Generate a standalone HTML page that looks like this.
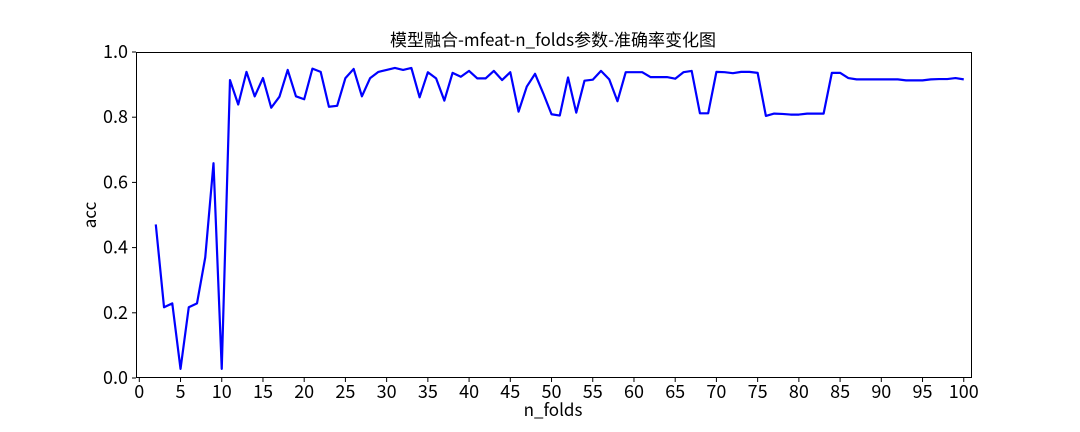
<!DOCTYPE html>
<html><head><meta charset="utf-8"><style>
html,body{margin:0;padding:0;background:#fff;}
svg{display:block;}
text{font-family:"WenQuanYi Zen Hei","Noto Sans CJK SC",sans-serif;fill:#000;}
</style></head><body>
<svg id="chart" width="1080" height="432" viewBox="0 0 1080 432" xmlns="http://www.w3.org/2000/svg">
<rect width="1080" height="432" fill="#fff"/>
<text x="553" y="46" text-anchor="middle" font-size="17">模型融合-mfeat-n_folds参数-准确率变化图</text>
<g id="axes"></g>
<text x="553" y="416" text-anchor="middle" font-size="17">n_folds</text>
<text x="96" y="215" text-anchor="middle" font-size="17" transform="rotate(-90 96 215)">acc</text>
</svg>
<script>
const nFolds = [];
for (let k = 2; k <= 100; k++) nFolds.push(k);
const accValues = [0.471,0.217,0.229,0.028,0.217,0.229,0.370,0.659,0.028,
0.914,0.839,0.939,0.864,0.920,0.829,0.863,0.945,0.864,0.855,
0.949,0.939,0.832,0.835,0.920,0.948,0.864,0.920,0.939,0.945,
0.951,0.945,0.951,0.861,0.938,0.919,0.851,0.936,0.924,0.942,
0.919,0.919,0.942,0.914,0.938,0.817,0.894,0.933,0.873,0.809,
0.805,0.922,0.814,0.912,0.915,0.942,0.916,0.849,0.938,0.938,
0.938,0.923,0.923,0.923,0.918,0.938,0.942,0.812,0.812,0.939,
0.938,0.935,0.939,0.939,0.936,0.804,0.811,0.810,0.808,0.808,
0.811,0.811,0.811,0.936,0.936,0.920,0.916,0.916,0.916,0.916,
0.916,0.916,0.913,0.913,0.913,0.916,0.917,0.917,0.920,0.916];
const xTicks = [0,5,10,15,20,25,30,35,40,45,50,55,60,65,70,75,80,85,90,95,100];
const yTicks = [0.0,0.2,0.4,0.6,0.8,1.0];

const L=136,R=972,T=52,B=378;
const xMin=-0.4,xMax=101.0,yMin=0,yMax=1;
const xs=v=>L+(v-xMin)/(xMax-xMin)*(R-L);
const ys=v=>B-(v-yMin)/(yMax-yMin)*(B-T);
const NS="http://www.w3.org/2000/svg";
const g=document.getElementById('axes');
function mk(tag,attrs){const e=document.createElementNS(NS,tag);for(const k in attrs)e.setAttribute(k,attrs[k]);g.appendChild(e);return e;}

let d='';
nFolds.forEach((x,i)=>{d+=(i?'L':'M')+xs(x).toFixed(2)+','+ys(accValues[i]).toFixed(2);});
const line=mk('path',{d:d,fill:'none',stroke:'#0000ff','stroke-width':2.2,'stroke-linejoin':'round'});



const frame=mk('rect',{x:L+0.5,y:T+0.5,width:R-L-1,height:B-T-1,fill:'none',stroke:'#000','stroke-width':1});



xTicks.forEach(t=>{
  const x=xs(t);
  const tk=mk('line',{x1:x,x2:x,y1:B,y2:B+4,stroke:'#000','stroke-width':1});
  
  
  const lb=mk('text',{x:x,y:B+20,'text-anchor':'middle','font-size':18});
  lb.textContent=String(t);
  
  
});
yTicks.forEach(t=>{
  const y=ys(t);
  const tk=mk('line',{x1:L-4,x2:L,y1:y,y2:y,stroke:'#000','stroke-width':1});
  
  
  const lb=mk('text',{x:L-8,y:y+6,'text-anchor':'end','font-size':18});
  lb.textContent=t.toFixed(1);
  
  
});
</script>
</body></html>
